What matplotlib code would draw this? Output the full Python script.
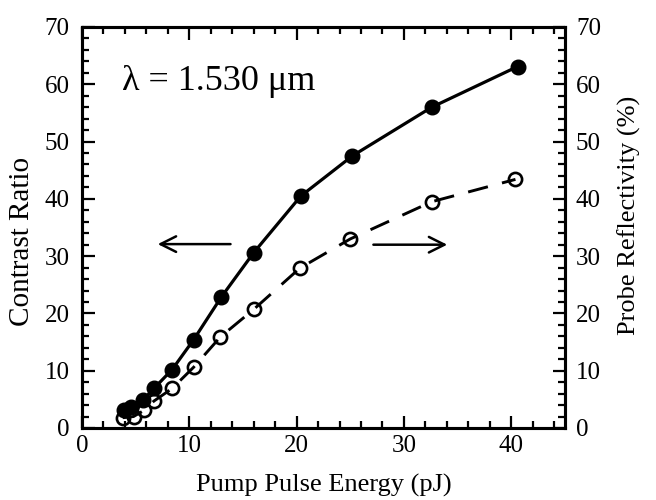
import numpy as np
import matplotlib
matplotlib.use("Agg")
import matplotlib.pyplot as plt
from matplotlib.ticker import MultipleLocator

plt.rcParams['font.family'] = ['Liberation Serif', 'DejaVu Serif']

# pump pulse energy (pJ) and contrast ratio (filled points, left axis)
energy_cr = [3.9, 4.6, 5.7, 6.7, 8.4, 10.4, 13.0, 16.0, 20.4, 25.2, 32.6, 40.6]
contrast = [3.1, 3.6, 4.9, 6.9, 10.2, 15.4, 22.9, 30.6, 40.5, 47.5, 56.0, 63.1]

# probe reflectivity in % (open points, right axis)
energy_pr = [3.8, 4.8, 5.8, 6.7, 8.4, 10.4, 12.9, 16.0, 20.3, 25.0, 32.6, 40.4]
reflect = [1.8, 2.0, 3.1, 4.7, 6.9, 10.6, 15.9, 20.7, 27.9, 33.0, 39.5, 43.4]

fig = plt.figure(figsize=(6.56, 5.0), dpi=100)
ax = fig.add_axes([0.125, 0.144, 0.736, 0.802])
ax2 = ax.twinx()

ax.plot(energy_cr, contrast, '-', color='black', lw=2.3,
        marker='o', ms=10.5, mfc='black', mec='black', zorder=3)
ax2.plot(energy_pr, reflect, color='black', lw=2.1, dashes=(7, 5),
         marker='o', ms=9.5, mfc='none', mec='black', mew=1.9, zorder=3)

for a in (ax, ax2):
    a.set_xlim(0, 45)
    a.set_ylim(0, 70)
    a.yaxis.set_major_locator(MultipleLocator(10))
    a.yaxis.set_minor_locator(MultipleLocator(2))

ax.xaxis.set_major_locator(MultipleLocator(10))
ax.xaxis.set_minor_locator(MultipleLocator(2))

ax.tick_params(which='both', direction='in', top=True, right=False,
               width=1.6, labelsize=18)
ax.tick_params(axis='x', pad=5)
ax.tick_params(axis='y', pad=9)
ax.tick_params(which='major', length=9)
ax.tick_params(which='minor', length=5)
ax2.tick_params(which='both', direction='in', width=1.6, labelsize=18, pad=8)
ax2.tick_params(which='major', length=9)
ax2.tick_params(which='minor', length=5)

for a in (ax, ax2):
    for s in a.spines.values():
        s.set_linewidth(2.2)

ax.set_xlabel('Pump Pulse Energy (pJ)', fontsize=19, labelpad=12)
ax.set_ylabel('Contrast Ratio', fontsize=21)
ax2.set_ylabel('Probe Reflectivity (%)', fontsize=19)
ax.yaxis.set_label_coords(-0.097, 0.464)
ax2.yaxis.set_label_coords(1.110, 0.529)

ax.text(3.7, 60.5, '\u03bb = 1.530 \u03bcm', fontsize=26, ha='left', va='center')

arrow = dict(arrowstyle='->', color='black', lw=1.8, mutation_scale=28)
ax.annotate('', xy=(6.8, 32.1), xytext=(14.1, 32.1), arrowprops=arrow)
ax.annotate('', xy=(34.3, 32.0), xytext=(26.9, 32.0), arrowprops=arrow)

fig.savefig('out.png', dpi=100)
